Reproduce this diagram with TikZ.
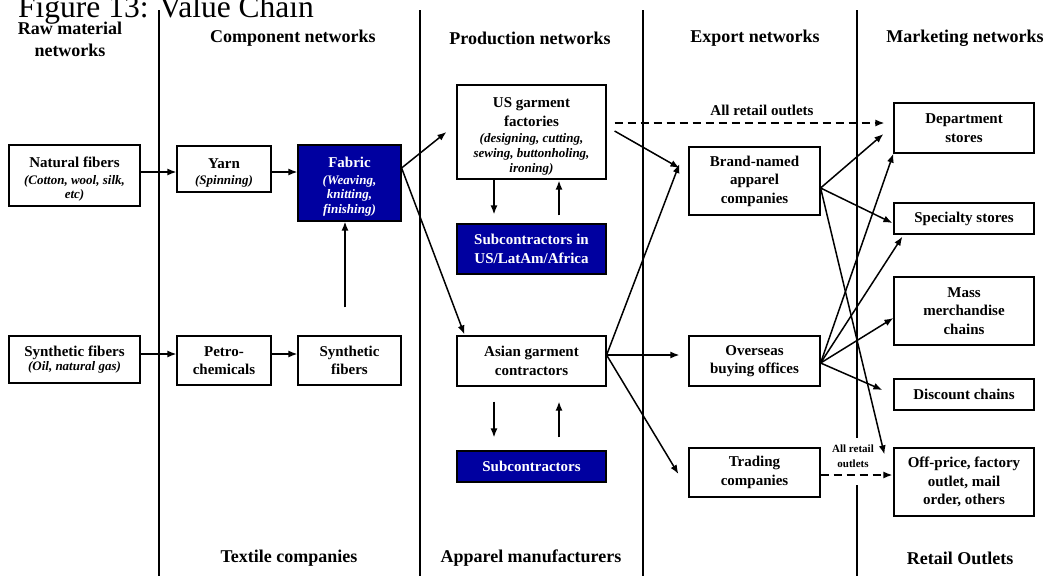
\documentclass[tikz,border=0pt]{standalone}
\usepackage{fontspec}
\setmainfont{Liberation Serif}
\usetikzlibrary{arrows.meta}
\definecolor{chainblue}{RGB}{0,0,160}
\newcommand\detail[1]{{\itshape\fontsize{13}{15}\selectfont #1}}
% taller first line, to sit the text block a little lower in its box
\newcommand\padtop{\rule{0pt}{18pt}}
\tikzset{
  box/.style={draw, line width=1.2pt, fill=white, align=center, inner sep=0pt,
    font=\bfseries\fontsize{15}{18.5}\selectfont},
  bluebox/.style={box, fill=chainblue, text=white},
  head/.style={align=center, font=\bfseries\fontsize{18}{22}\selectfont},
  arr/.style={-{Latex[length=9pt,width=7pt]}, line width=1.5pt},
  dashline/.style={dash pattern=on 8pt off 5pt},
  divider/.style={line width=1.4pt},
  tag/.style={align=center, font=\bfseries\fontsize{15}{18}\selectfont}
}
\begin{document}
\begin{tikzpicture}[x=1pt,y=-1pt]
\useasboundingbox (0,0) rectangle (1045,576);

% title and column dividers
\node[anchor=base west, inner sep=0pt, font=\fontsize{31.5}{36}\selectfont] (title) at (18,17) {Figure 13: Value Chain};
\draw[divider] (159,10) -- (159,576);
\draw[divider] (420,10) -- (420,576);
\draw[divider] (643,10) -- (643,576);
\draw[divider] (857,10) -- (857,438);
\draw[divider] (857,485) -- (857,576);

% column headings
\node[head] (hraw) at (70,39) {Raw material\\networks};
\node[head] (hcomp) at (293,38) {Component networks};
\node[head] (hprod) at (530,38) {Production networks};
\node[head] (hexp) at (755,38) {Export networks};
\node[head] (hmkt) at (965,38) {Marketing networks};
\node[head] (ftex) at (289,558) {Textile companies};
\node[head] (fapp) at (531,558) {Apparel manufacturers};
\node[head] (fret) at (960,558) {Retail Outlets};

% raw materials and components
\node[box, minimum width=131, minimum height=61] (nat) at (74.5,175.5)
  {\padtop Natural fibers\\[-1.5pt]\detail{(Cotton, wool, silk,}\\[-4pt]\detail{etc)}};
\node[box, minimum width=94, minimum height=46] (yarn) at (224,169)
  {\padtop Yarn\\[-3pt]\detail{(Spinning)}};
\node[bluebox, minimum width=103, minimum height=76] (fabric) at (349.5,183)
  {\padtop Fabric\\[-1.5pt]\detail{(Weaving,}\\[-4pt]\detail{knitting,}\\[-3.5pt]\detail{finishing)}};
\node[box, minimum width=131, minimum height=47] (synraw) at (74.5,359.5)
  {Synthetic fibers\\[-4.5pt]\detail{(Oil, natural gas)}};
\node[box, minimum width=94, minimum height=49] (petro) at (224,360.5)
  {Petro-\\chemicals};
\node[box, minimum width=103, minimum height=49] (synfib) at (349.5,360.5)
  {Synthetic\\fibers};

% production
\node[box, minimum width=149, minimum height=94] (usf) at (531.5,132)
  {\padtop US garment\\[0.5pt]factories\\[-2.5pt]\detail{(designing, cutting,}\\[-3.5pt]\detail{sewing, buttonholing,}\\[-3.5pt]\detail{ironing)}};
\node[bluebox, minimum width=149, minimum height=50] (subus) at (531.5,249)
  {Subcontractors in\\US/LatAm/Africa};
\node[box, minimum width=149, minimum height=50] (asian) at (531.5,361)
  {Asian garment\\contractors};
\node[bluebox, minimum width=149, minimum height=31] (sub) at (531.5,466.5)
  {Subcontractors};

% export
\node[box, minimum width=131, minimum height=68] (brand) at (754.5,181)
  {Brand-named\\apparel\\companies};
\node[box, minimum width=131, minimum height=50] (overseas) at (754.5,361)
  {Overseas\\buying offices};
\node[box, minimum width=131, minimum height=49] (trading) at (754.5,472.5)
  {Trading\\companies};

% marketing
\node[box, minimum width=140, minimum height=50] (dept) at (964,128)
  {Department\\stores};
\node[box, minimum width=140, minimum height=31] (spec) at (964,218.5)
  {Specialty stores};
\node[box, minimum width=140, minimum height=68] (mass) at (964,311)
  {Mass\\merchandise\\chains};
\node[box, minimum width=140, minimum height=31] (disc) at (964,394.5)
  {Discount chains};
\node[box, minimum width=140, minimum height=68] (offp) at (964,482)
  {Off-price, factory\\outlet, mail\\order, others};

% textile flows
\draw[arr] ([yshift=3.5pt]nat.east) -- ([yshift=3.5pt]nat.east -| yarn.west);
\draw[arr] ([yshift=-3pt]yarn.east) -- ([yshift=-3pt]yarn.east -| fabric.west);
\draw[arr] ([yshift=5.5pt]synraw.east) -- ([yshift=5.5pt]synraw.east -| petro.west);
\draw[arr] ([yshift=6.5pt]petro.east) -- ([yshift=6.5pt]petro.east -| synfib.west);
\draw[arr, shorten <=28pt] ([xshift=-4.5pt]synfib.north) -- ([xshift=-4.5pt]fabric.south);
\draw[arr] ([yshift=15pt]fabric.east) -- ([xshift=-10pt]usf.west);
\draw[arr] ([yshift=15pt]fabric.east) -- ([xshift=8pt,yshift=1pt]asian.north west);

% production loops
\draw[arr, shorten >=9pt] ([xshift=-37.5pt]usf.south) -- ([xshift=-37.5pt]subus.north);
\draw[arr, shorten <=8pt, shorten >=1pt] ([xshift=27.5pt]subus.north) -- ([xshift=27.5pt]usf.south);
\draw[arr, shorten <=15pt, shorten >=13pt] ([xshift=-37.5pt]asian.south) -- ([xshift=-37.5pt]sub.north);
\draw[arr, shorten <=13pt, shorten >=15pt] ([xshift=27.5pt]sub.north) -- ([xshift=27.5pt]asian.south);

% to exporters
\draw[arr, dashline, shorten <=8pt, shorten >=9pt] ([yshift=9pt]usf.east) -- ([yshift=9pt]usf.east -| dept.west);
\node[tag] (allret) at (762,110) {All retail outlets};
\draw[arr] ([xshift=8pt,yshift=1pt]usf.east) -- ([xshift=-9pt,yshift=13pt]brand.west);
\draw[arr] ([yshift=6pt]asian.east) -- ([xshift=-9pt,yshift=17pt]brand.west);
\draw[arr] ([yshift=6pt]asian.east) -- ([xshift=-9pt,yshift=6pt]overseas.west);
\draw[arr] ([yshift=6pt]asian.east) -- ([xshift=-10pt,yshift=-1.5pt]trading.west);

% to retailers
\draw[arr] ([yshift=-7pt]brand.east) -- ([xshift=-10pt,yshift=-6pt]dept.west);
\draw[arr] ([yshift=-7pt]brand.east) -- ([xshift=-1pt,yshift=-4.5pt]spec.west);
\draw[arr] ([yshift=-7pt]brand.east) -- ([xshift=-9pt,yshift=-7pt]offp.north west);
\draw[arr] ([yshift=-2pt]overseas.east) -- (dept.south west);
\draw[arr] ([yshift=-2pt]overseas.east) -- ([xshift=9pt,yshift=-2pt]spec.south west);
\draw[arr] ([yshift=-2pt]overseas.east) -- ([yshift=-7pt]mass.west);
\draw[arr] ([yshift=-2pt]overseas.east) -- ([xshift=-11pt,yshift=4.5pt]disc.west);

% dashed direct route from the trading companies
\node[align=center, inner sep=0pt, font=\bfseries\fontsize{11}{14.5}\selectfont] (allret2) at (853,456) {All retail\\outlets};
\draw[arr, dashline] ([yshift=-2.5pt]trading.east) -- ([xshift=-1pt,yshift=-2.5pt]trading.east -| offp.west);
\end{tikzpicture}
\end{document}
